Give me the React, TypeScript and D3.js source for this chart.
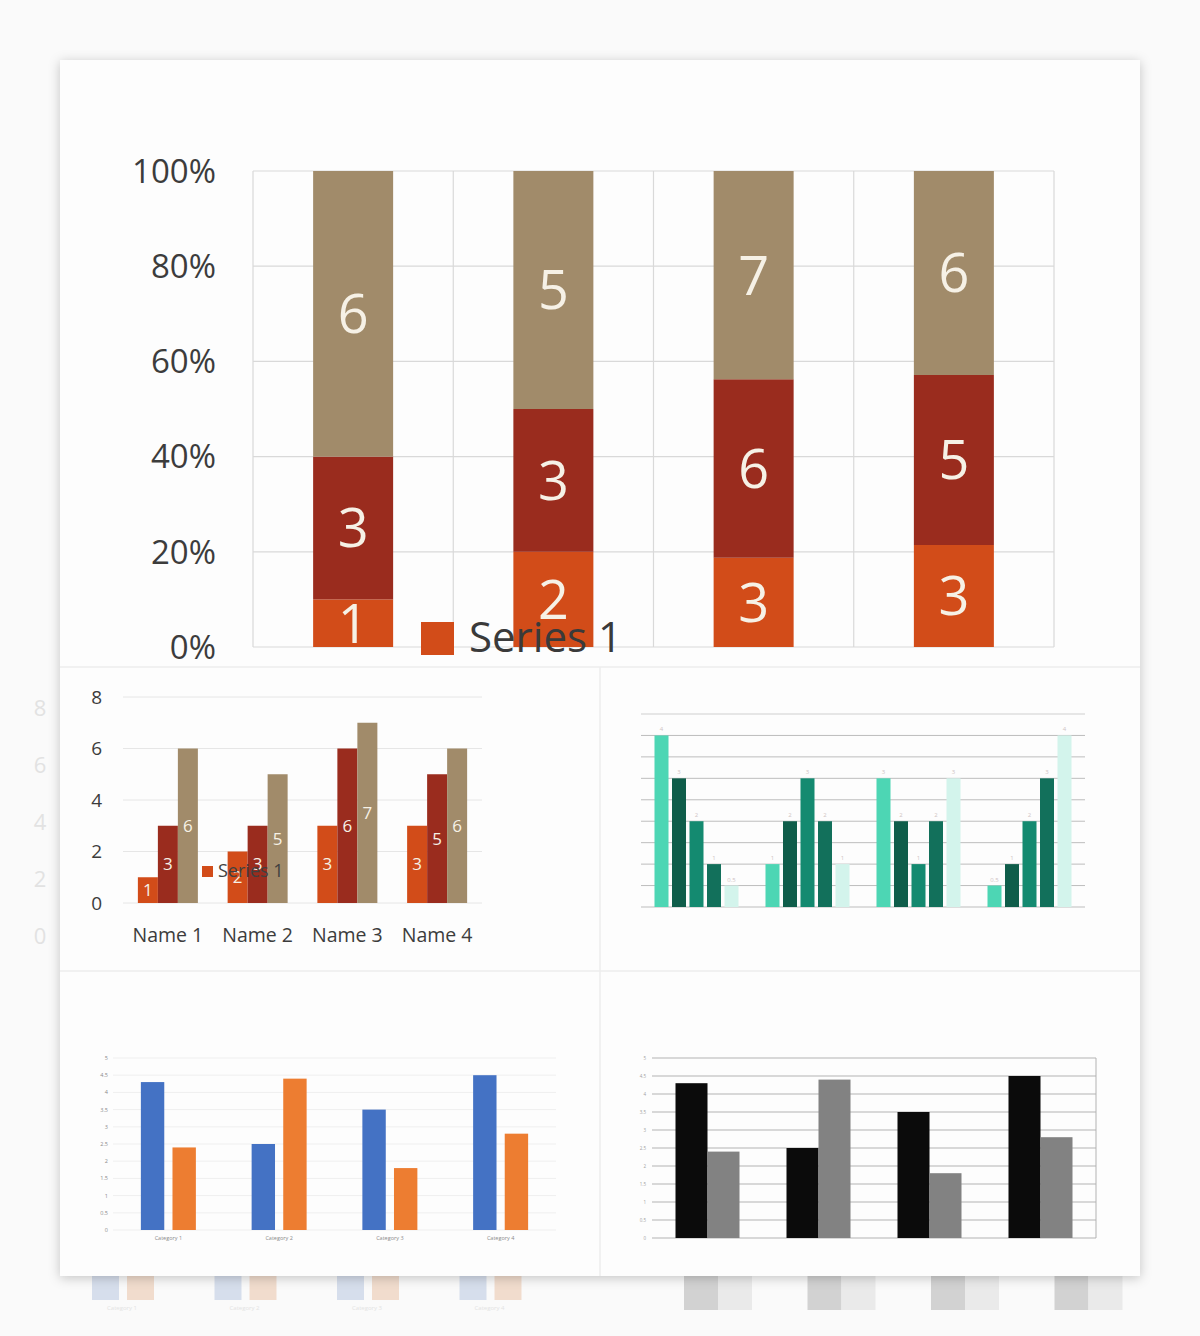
import React from 'react';
import * as d3 from 'd3';

// ---------- data ----------
const names = ['Name 1', 'Name 2', 'Name 3', 'Name 4'];
const seriesA = [1, 2, 3, 3];
const seriesB = [3, 3, 6, 5];
const seriesC = [6, 5, 7, 6];
const pctTicks = [0, 0.2, 0.4, 0.6, 0.8, 1];
const clusterTicks = [0, 2, 4, 6, 8];
const legendLabel = 'Series 1';

const tealS1 = [4, 1, 3, 0.5];
const tealS2 = [3, 2, 2, 1];
const tealS3 = [2, 3, 1, 2];
const tealS4 = [1, 2, 2, 3];
const tealS5 = [0.5, 1, 3, 4];
const tealTicks = [0, 0.5, 1, 1.5, 2, 2.5, 3, 3.5, 4, 4.5];

const categories = ['Category 1', 'Category 2', 'Category 3', 'Category 4'];
const blueVals = [4.3, 2.5, 3.5, 4.5];
const orangeVals = [2.4, 4.4, 1.8, 2.8];
const halfTicks = [0, 0.5, 1, 1.5, 2, 2.5, 3, 3.5, 4, 4.5, 5];
const ghostTicks = [0, 2, 4, 6, 8];

const FONT = '"Open Sans", "Noto Sans", sans-serif';
const C_ORANGE = '#d24c19';
const C_RED = '#9a2c1e';
const C_TAN = '#a18b6a';
const LBL = '#f6f1e6';
const tealColors = ['#4dd6b4', '#0f5d4a', '#148a70', '#12705b', '#d3f4ec'];

function TopChart() {
  const x = d3.scaleBand<string>().domain(names).range([253, 1054]);
  const y = d3.scaleLinear().domain([0, 1]).range([647, 171]);
  const barW = 80;
  const stacked = names.map((n, i) => {
    const vals = [seriesA[i], seriesB[i], seriesC[i]];
    const tot = d3.sum(vals);
    let acc = 0;
    return vals.map((v, k) => {
      const y0 = acc / tot;
      acc += v;
      return { n, v, k, y0, y1: acc / tot };
    });
  });
  const cols = [C_ORANGE, C_RED, C_TAN];
  return (
    <g>
      {pctTicks.map((t) => (
        <g key={t}>
          <line x1={253} x2={1054} y1={y(t)} y2={y(t)} stroke="#d9d9d9" strokeWidth={1.2} />
          <text x={216} y={y(t)} dy="0.36em" textAnchor="end" fontSize={33} fill="#3c3c3c" fontFamily={FONT}>
            {d3.format('.0%')(t)}
          </text>
        </g>
      ))}
      {[...names.map((n) => x(n)!), 1054].map((v, i) => (
        <line key={i} x1={v} x2={v} y1={171} y2={647} stroke="#d9d9d9" strokeWidth={1.2} />
      ))}
      {stacked.map((segs) =>
        segs.map((s) => {
          const bx = x(s.n)! + (x.bandwidth() - barW) / 2;
          return (
            <g key={s.n + s.k}>
              <rect x={bx} y={y(s.y1)} width={barW} height={y(s.y0) - y(s.y1)} fill={cols[s.k]} />
              <text
                x={bx + barW / 2}
                y={(y(s.y0) + y(s.y1)) / 2}
                dy="0.36em"
                textAnchor="middle"
                fontSize={54}
                fill={LBL}
                fontFamily={FONT}
              >
                {s.v}
              </text>
            </g>
          );
        })
      )}
      <rect x={421} y={622} width={33} height={33} fill={C_ORANGE} />
      <text x={469} y={652} fontSize={42} fill="#3a3a3a" fontFamily={FONT}>
        {legendLabel}
      </text>
    </g>
  );
}

function ClusterChart() {
  const x = d3.scaleBand<string>().domain(names).range([123, 482]);
  const y = d3.scaleLinear().domain([0, 8]).range([903, 697]);
  const inner = d3.scaleBand<number>().domain([0, 1, 2]).range([0, 60]);
  const cols = [C_ORANGE, C_RED, C_TAN];
  const sets = [seriesA, seriesB, seriesC];
  return (
    <g>
      {clusterTicks.map((t) => (
        <g key={t}>
          <line x1={123} x2={482} y1={y(t)} y2={y(t)} stroke="#e6e6e6" strokeWidth={1} />
          <text x={102} y={y(t)} dy="0.36em" textAnchor="end" fontSize={19} fill="#3c3c3c" fontFamily={FONT}>
            {t}
          </text>
        </g>
      ))}
      {names.map((n, i) => (
        <g key={n}>
          {sets.map((s, k) => {
            const bx = x(n)! + (x.bandwidth() - 60) / 2 + inner(k)!;
            return (
              <g key={k}>
                <rect x={bx} y={y(s[i])} width={inner.bandwidth()} height={y(0) - y(s[i])} fill={cols[k]} />
                <text
                  x={bx + inner.bandwidth() / 2}
                  y={y(s[i] / 2)}
                  dy="0.36em"
                  textAnchor="middle"
                  fontSize={17}
                  fill={LBL}
                  fontFamily={FONT}
                >
                  {s[i]}
                </text>
              </g>
            );
          })}
          <text x={x(n)! + x.bandwidth() / 2} y={935} dy="0.36em" textAnchor="middle" fontSize={19.5} fill="#3c3c3c" fontFamily={FONT}>
            {n}
          </text>
        </g>
      ))}
      <rect x={202} y={866} width={11} height={11} fill={C_ORANGE} />
      <text x={218} y={871} dy="0.36em" fontSize={18} fill="#404040" fontFamily={FONT}>
        {legendLabel}
      </text>
    </g>
  );
}

function TealChart() {
  const x = d3.scaleBand<string>().domain(names).range([641, 1085]);
  const y = d3.scaleLinear().domain([0, 4.5]).range([907, 714]);
  const inner = d3.scaleBand<number>().domain([0, 1, 2, 3, 4]).range([0, 84]).paddingInner(0.2);
  const sets = [tealS1, tealS2, tealS3, tealS4, tealS5];
  return (
    <g>
      {tealTicks.map((t) => (
        <line key={t} x1={641} x2={1085} y1={y(t)} y2={y(t)} stroke={t === 4.5 ? '#cfcfcf' : '#bdbdbd'} strokeWidth={1} />
      ))}
      {names.map((n, i) =>
        sets.map((s, k) => {
          const bx = x(n)! + (x.bandwidth() - 84) / 2 + inner(k)!;
          return (
            <g key={n + k}>
              <rect x={bx} y={y(s[i])} width={inner.bandwidth()} height={y(0) - y(s[i])} fill={tealColors[k]} />
              <text x={bx + inner.bandwidth() / 2} y={y(s[i]) - 4} textAnchor="middle" fontSize={6} fill="#d0c4c4" fontFamily={FONT}>
                {s[i]}
              </text>
            </g>
          );
        })
      )}
    </g>
  );
}

function ColorPairChart() {
  const x = d3.scaleBand<string>().domain(categories).range([113, 556]);
  const y = d3.scaleLinear().domain([0, 5]).range([1230, 1058]);
  const inner = d3.scaleBand<number>().domain([0, 1]).range([0, 55]).paddingInner(0.26);
  const sets = [blueVals, orangeVals];
  const cols = ['#4472c4', '#ed7d31'];
  return (
    <g>
      {halfTicks.map((t) => (
        <g key={t}>
          <line x1={113} x2={556} y1={y(t)} y2={y(t)} stroke="#efefef" strokeWidth={1} />
          <text x={108} y={y(t)} dy="0.36em" textAnchor="end" fontSize={5.5} fill="#8a8a8a" fontFamily={FONT}>
            {t}
          </text>
        </g>
      ))}
      {categories.map((c, i) => (
        <g key={c}>
          {sets.map((s, k) => (
            <rect
              key={k}
              x={x(c)! + (x.bandwidth() - 55) / 2 + inner(k)!}
              y={y(s[i])}
              width={inner.bandwidth()}
              height={y(0) - y(s[i])}
              fill={cols[k]}
            />
          ))}
          <text x={x(c)! + x.bandwidth() / 2} y={1238} dy="0.36em" textAnchor="middle" fontSize={5.5} fill="#8a8a8a" fontFamily={FONT}>
            {c}
          </text>
        </g>
      ))}
    </g>
  );
}

function GrayPairChart() {
  const x = d3.scaleBand<string>().domain(categories).range([652, 1096]);
  const y = d3.scaleLinear().domain([0, 5]).range([1238, 1058]);
  const inner = d3.scaleBand<number>().domain([0, 1]).range([0, 64]);
  const sets = [blueVals, orangeVals];
  const cols = ['#0b0b0b', '#828282'];
  return (
    <g>
      {halfTicks.map((t) => (
        <g key={t}>
          <line x1={652} x2={1096} y1={y(t)} y2={y(t)} stroke="#b3b3b3" strokeWidth={1} />
          <text x={646} y={y(t)} dy="0.36em" textAnchor="end" fontSize={4.5} fill="#a0a0a0" fontFamily={FONT}>
            {t}
          </text>
        </g>
      ))}
      <line x1={1096} x2={1096} y1={1058} y2={1238} stroke="#b3b3b3" strokeWidth={1} />
      {categories.map((c, i) =>
        sets.map((s, k) => (
          <rect
            key={c + k}
            x={x(c)! + (x.bandwidth() - 64) / 2 + inner(k)!}
            y={y(s[i])}
            width={inner.bandwidth()}
            height={y(0) - y(s[i])}
            fill={cols[k]}
          />
        ))
      )}
    </g>
  );
}

function Ghosts() {
  // faint reflections of the charts behind the card
  const yl = d3.scaleLinear().domain([0, 8]).range([936, 708]);
  const xb = d3.scaleBand<string>().domain(categories).range([60, 550]);
  const xg = d3.scaleBand<string>().domain(categories).range([652, 1146]);
  const yb = d3.scaleLinear().domain([0, 1]).range([1300, 1276]);
  const yg = d3.scaleLinear().domain([0, 1]).range([1310, 1276]);
  return (
    <g>
      {ghostTicks.map((t) => (
        <text key={t} x={40} y={yl(t)} dy="0.36em" textAnchor="middle" fontSize={22} fill="#e2e2e2" fontFamily={FONT}>
          {t}
        </text>
      ))}
      {categories.map((c) => (
        <g key={c}>
          <rect x={xb(c)! + 32} y={yb(1)} width={27} height={yb(0) - yb(1)} fill="#d6deec" />
          <rect x={xb(c)! + 67} y={yb(1)} width={27} height={yb(0) - yb(1)} fill="#f1dccd" />
          <text x={xb(c)! + 62} y={1308} dy="0.36em" textAnchor="middle" fontSize={6} fill="#e3e3e3" fontFamily={FONT}>
            {c}
          </text>
          <rect x={xg(c)! + 32} y={yg(1)} width={34} height={yg(0) - yg(1)} fill="#d2d2d2" />
          <rect x={xg(c)! + 66} y={yg(1)} width={34} height={yg(0) - yg(1)} fill="#eaeaea" />
        </g>
      ))}
    </g>
  );
}

export default function App() {
  return (
    <svg
      width={1200}
      height={1336}
      viewBox="0 0 1200 1336"
      style={{ position: 'absolute', left: 0, top: 0, display: 'block' }}
    >
      <defs>
        <filter id="shadow" x="-5%" y="-5%" width="110%" height="110%">
          <feDropShadow dx={0} dy={2} stdDeviation={6} floodColor="#000" floodOpacity={0.22} />
        </filter>
      </defs>
      <rect width={1200} height={1336} fill="#fafafa" />
      <Ghosts />
      <rect x={60} y={60} width={1080} height={1216} fill="#fdfdfd" filter="url(#shadow)" />
      <line x1={60} x2={1140} y1={667} y2={667} stroke="#ececec" strokeWidth={1.5} />
      <line x1={60} x2={1140} y1={971} y2={971} stroke="#ececec" strokeWidth={1.5} />
      <line x1={600} x2={600} y1={667} y2={1276} stroke="#ececec" strokeWidth={1.5} />
      <TopChart />
      <ClusterChart />
      <TealChart />
      <ColorPairChart />
      <GrayPairChart />
    </svg>
  );
}
